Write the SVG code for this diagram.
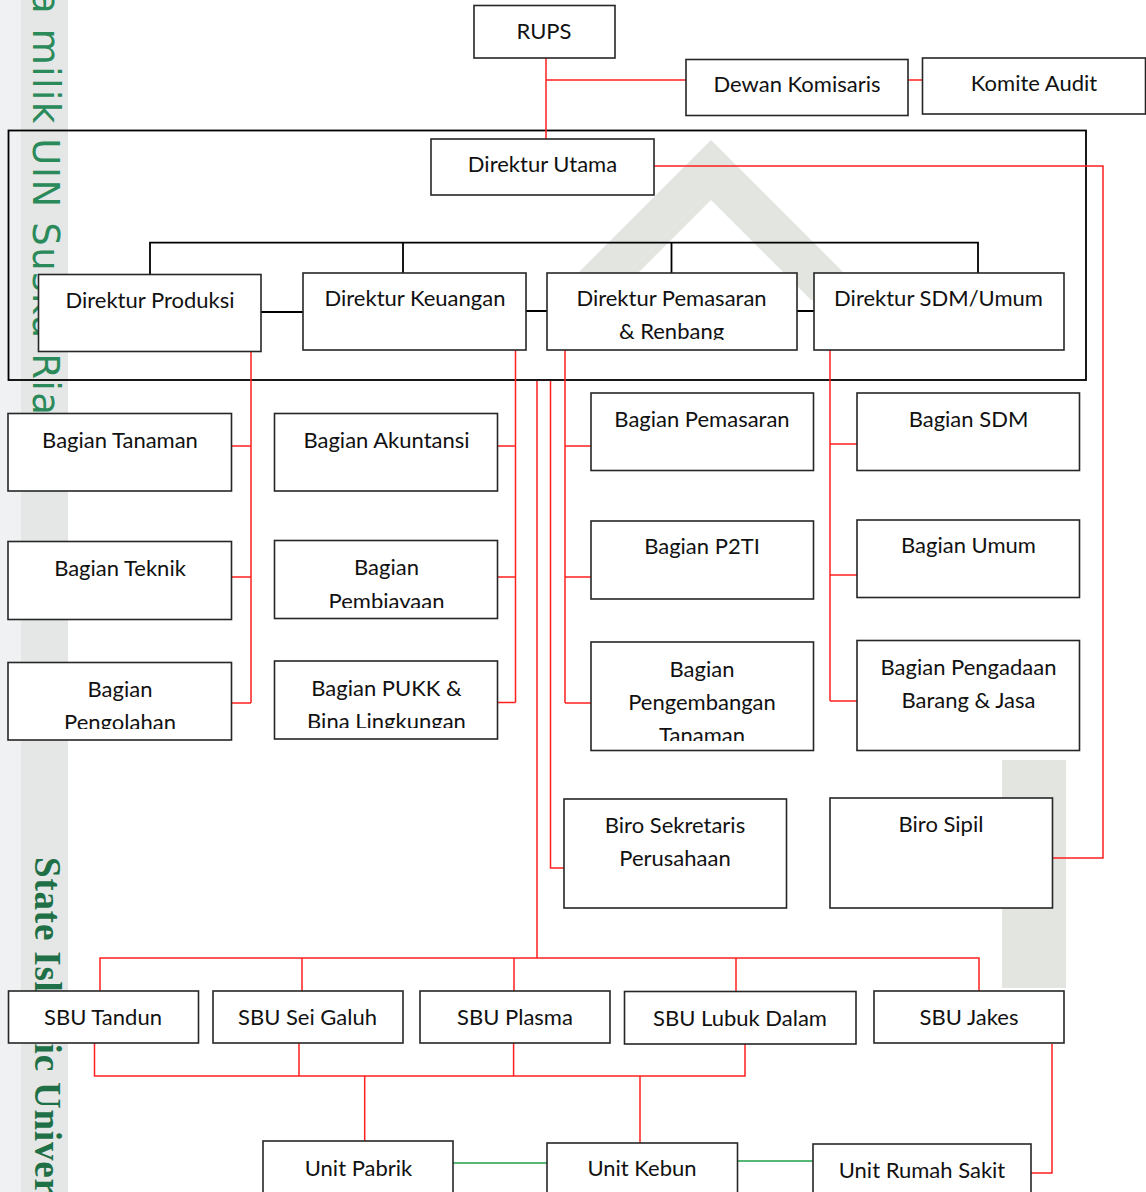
<svg xmlns="http://www.w3.org/2000/svg" width="1146" height="1192" viewBox="0 0 1146 1192">
<style>
.box{fill:#fff;stroke:#262626;stroke-width:1.6}
.t{font-family:Lato,"Liberation Sans",sans-serif;font-size:22px;fill:#111;text-anchor:middle}
.r{stroke:#ff1f1f;stroke-width:1.5;fill:none}
.k{stroke:#000;stroke-width:1.8;fill:none}
.g{stroke:#20a04a;stroke-width:1.3;fill:none}
.wm{fill:#e3e5e1}
.wm1{font-family:"DejaVu Sans",sans-serif;font-size:37px;letter-spacing:1.6px;fill:#2b8a5a}
.wm2{font-family:"Liberation Serif",serif;font-weight:bold;font-size:37px;letter-spacing:0.8px;fill:#1f7046}
</style>
<defs>
<clipPath id="c1"><rect x="546" y="273" width="251" height="67"/></clipPath>
<clipPath id="c2"><rect x="8" y="662" width="224" height="67"/></clipPath>
<clipPath id="c3"><rect x="275" y="540" width="223" height="68"/></clipPath>
<clipPath id="c4"><rect x="275" y="661" width="223" height="67"/></clipPath>
<clipPath id="c5"><rect x="591" y="642" width="222" height="99"/></clipPath>
</defs>
<rect x="0" y="0" width="1146" height="1192" fill="#fff"/>
<g id="watermark">
<rect x="0" y="0" width="21" height="1192" fill="#f0f1f2"/>
<rect x="21" y="0" width="47" height="1192" fill="#e5e7e7"/>
<path class="wm" d="M711,140 L871,300 L811,300 L711,200 L611,300 L551,300 Z"/>
<rect class="wm" x="1002" y="760" width="64" height="228"/>
<text class="wm1" transform="translate(33,-9) rotate(90)">a milik UIN Suska Riau</text>
<text class="wm2" transform="translate(35,857) rotate(90)">State Islamic Univer</text>
</g>
<g id="connectors">
<rect class="k" x="8.5" y="130.5" width="1077.5" height="249.5" stroke-width="2"/>
<path class="k" d="M150,275 V242.7 H978 V273 M403,242.7 V273 M671.5,242.7 V273"/>
<path class="k" stroke-width="1.3" d="M261,312 H303 M526,311 H547 M797,311 H814"/>
<path class="r" d="M546,58 V139 M546,80 H686 M908,80 H922 M654,166 H1103 V858 H1053"/>
<path class="r" d="M251,352 V703 M232,446 H251 M232,577 H251 M232,703 H251"/>
<path class="r" d="M515.5,350 V702.5 M498,446 H515.5 M498,577 H515.5 M498,702.5 H515.5"/>
<path class="r" d="M537,381 V958 M550.5,381 V868 H564"/>
<path class="r" d="M565,350 V703 M565,446 H591 M565,577 H591 M565,703 H591"/>
<path class="r" d="M830,350 V701 M830,444 H857 M830,575 H857 M830,701 H857"/>
<path class="r" d="M100,991 V958 H979 V991 M302,958 V991 M514,958 V991 M736,958 V992"/>
<path class="r" d="M94.5,1043 V1076 H745 V1044 M299,1043 V1076 M513.6,1043 V1076 M364.7,1076 V1141 M640,1076 V1143"/>
<path class="r" d="M1052,1044 V1173 H1031"/>
<path class="g" d="M453,1163 H547 M737.5,1161 H813"/>
</g>
<g id="rups"><rect class="box" x="474" y="5.5" width="141" height="52.5"/><text class="t" x="544" y="39">RUPS</text></g>
<g id="dewan-komisaris"><rect class="box" x="686" y="59.5" width="222" height="56"/><text class="t" x="797" y="92">Dewan Komisaris</text></g>
<g id="komite-audit"><rect class="box" x="922.5" y="58" width="223" height="56"/><text class="t" x="1034" y="91">Komite Audit</text></g>
<g id="direktur-utama"><rect class="box" x="431" y="139" width="223" height="56"/><text class="t" x="542.5" y="172">Direktur Utama</text></g>
<g id="direktur-produksi"><rect class="box" x="38.5" y="274.5" width="222.5" height="77"/><text class="t" x="150" y="308">Direktur Produksi</text></g>
<g id="direktur-keuangan"><rect class="box" x="303" y="273" width="223" height="77"/><text class="t" x="415" y="306">Direktur Keuangan</text></g>
<g id="direktur-pemasaran"><rect class="box" x="547" y="273" width="250" height="77"/><g clip-path="url(#c1)"><text class="t" x="671.5" y="306">Direktur Pemasaran</text><text class="t" x="671.5" y="339">&amp; Renbang</text></g></g>
<g id="direktur-sdm"><rect class="box" x="814" y="273" width="250" height="77"/><text class="t" x="938.5" y="306">Direktur SDM/Umum</text></g>
<g id="bagian-tanaman"><rect class="box" x="8" y="413.5" width="223.5" height="77.5"/><text class="t" x="120" y="448">Bagian Tanaman</text></g>
<g id="bagian-teknik"><rect class="box" x="8" y="541.5" width="223.5" height="78"/><text class="t" x="120" y="576">Bagian Teknik</text></g>
<g id="bagian-pengolahan"><rect class="box" x="8" y="662.5" width="223.5" height="77.5"/><g clip-path="url(#c2)"><text class="t" x="120" y="697">Bagian</text><text class="t" x="120" y="730">Pengolahan</text></g></g>
<g id="bagian-akuntansi"><rect class="box" x="274.5" y="413.5" width="223" height="77.5"/><text class="t" x="386.5" y="448">Bagian Akuntansi</text></g>
<g id="bagian-pembiayaan"><rect class="box" x="274.5" y="540.5" width="223" height="78"/><g clip-path="url(#c3)"><text class="t" x="386.5" y="575">Bagian</text><text class="t" x="386.5" y="609">Pembiayaan</text></g></g>
<g id="bagian-pukk"><rect class="box" x="274.5" y="661" width="223" height="78"/><g clip-path="url(#c4)"><text class="t" x="386.5" y="696">Bagian PUKK &amp;</text><text class="t" x="386.5" y="729">Bina Lingkungan</text></g></g>
<g id="bagian-pemasaran"><rect class="box" x="591" y="393" width="222.5" height="77.5"/><text class="t" x="702" y="427">Bagian Pemasaran</text></g>
<g id="bagian-p2ti"><rect class="box" x="591" y="521" width="222.5" height="78"/><text class="t" x="702" y="554">Bagian P2TI</text></g>
<g id="bagian-pengembangan"><rect class="box" x="591" y="642" width="222.5" height="108.5"/><g clip-path="url(#c5)"><text class="t" x="702" y="677">Bagian</text><text class="t" x="702" y="710">Pengembangan</text><text class="t" x="702" y="743">Tanaman</text></g></g>
<g id="bagian-sdm"><rect class="box" x="857" y="393" width="222.5" height="77.5"/><text class="t" x="968.5" y="427">Bagian SDM</text></g>
<g id="bagian-umum"><rect class="box" x="857" y="520" width="222.5" height="77.5"/><text class="t" x="968.5" y="553">Bagian Umum</text></g>
<g id="bagian-pengadaan"><rect class="box" x="857" y="640.5" width="222.5" height="110"/><text class="t" x="968.5" y="675">Bagian Pengadaan</text><text class="t" x="968.5" y="708">Barang &amp; Jasa</text></g>
<g id="biro-sekretaris"><rect class="box" x="564" y="799" width="222.5" height="109"/><text class="t" x="675" y="833">Biro Sekretaris</text><text class="t" x="675" y="866">Perusahaan</text></g>
<g id="biro-sipil"><rect class="box" x="830" y="798" width="222.5" height="110"/><text class="t" x="941" y="832">Biro Sipil</text></g>
<g id="sbu-tandun"><rect class="box" x="8.5" y="991" width="190" height="52"/><text class="t" x="103" y="1025">SBU Tandun</text></g>
<g id="sbu-sei-galuh"><rect class="box" x="213" y="991" width="190" height="52"/><text class="t" x="307.5" y="1025">SBU Sei Galuh</text></g>
<g id="sbu-plasma"><rect class="box" x="420" y="991" width="190" height="52"/><text class="t" x="515" y="1025">SBU Plasma</text></g>
<g id="sbu-lubuk-dalam"><rect class="box" x="624.5" y="991.5" width="231.5" height="52.5"/><text class="t" x="740" y="1026">SBU Lubuk Dalam</text></g>
<g id="sbu-jakes"><rect class="box" x="874" y="991" width="190" height="52"/><text class="t" x="969" y="1025">SBU Jakes</text></g>
<g id="unit-pabrik"><rect class="box" x="263" y="1141" width="190" height="60"/><text class="t" x="358.5" y="1176">Unit Pabrik</text></g>
<g id="unit-kebun"><rect class="box" x="547" y="1143" width="190.5" height="60"/><text class="t" x="642" y="1176">Unit Kebun</text></g>
<g id="unit-rumah-sakit"><rect class="box" x="813" y="1144" width="218" height="60"/><text class="t" x="922" y="1178">Unit Rumah Sakit</text></g>
</svg>
